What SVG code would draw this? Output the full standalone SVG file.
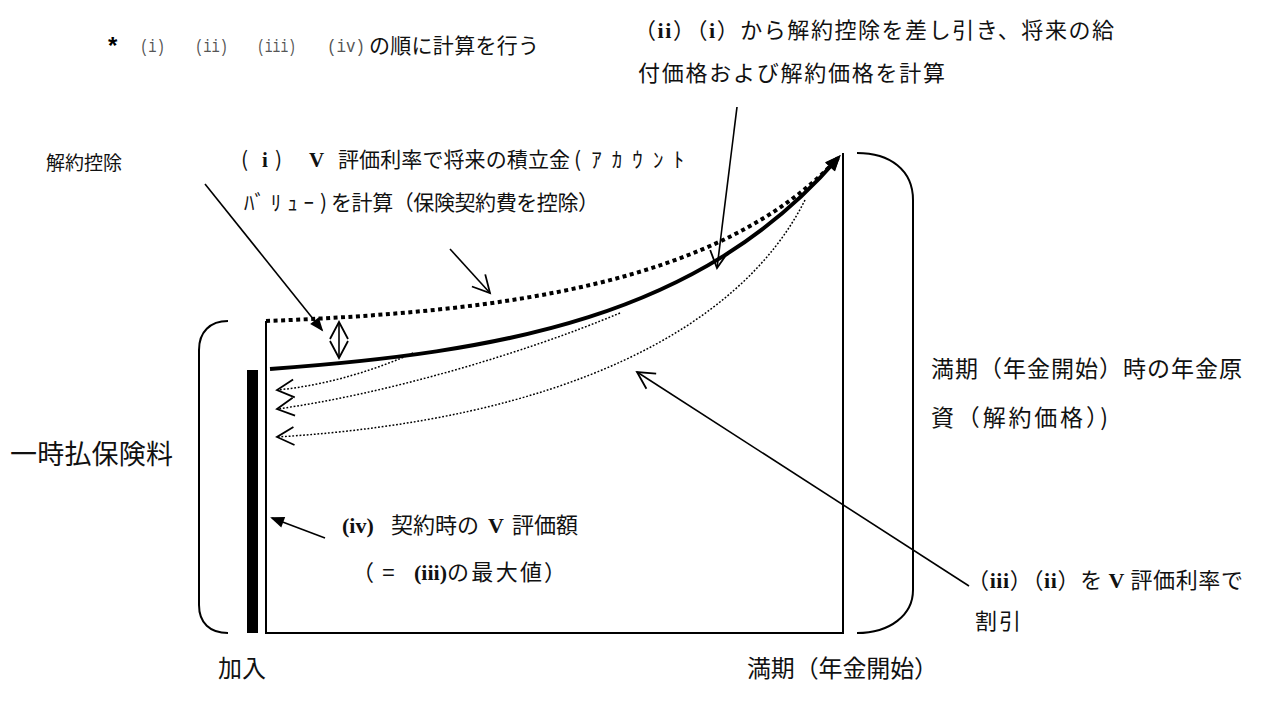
<svg xmlns="http://www.w3.org/2000/svg" width="1287" height="706" viewBox="0 0 1287 706">
<style>
.jp{font-family:"Noto Sans CJK JP","Noto Sans",sans-serif;font-size:22px;fill:#111}
.s19{font-size:19px}
.s21{font-size:21px}
.s23{font-size:23px}
.s24{font-size:24px}
.s27{font-size:27px}
.bs{font-family:"Liberation Serif",serif;font-weight:bold}
.mono{font-family:"Liberation Mono",monospace;font-size:19px;fill:#555}
.ln{fill:none;stroke:#000;stroke-width:2}
.thin{fill:none;stroke:#000;stroke-width:1.6}
.dotthin{fill:none;stroke:#000;stroke-width:1.5;stroke-dasharray:1.8 1.8}
</style>
<defs>
<marker id="fill" markerUnits="userSpaceOnUse" markerWidth="1" markerHeight="1" orient="auto" refX="0" refY="0" overflow="visible">
<path d="M4,0 L-12,-6.5 L-12,6.5 Z" fill="#000"/>
</marker>
<marker id="fillS" markerUnits="userSpaceOnUse" markerWidth="1" markerHeight="1" orient="auto" refX="0" refY="0" overflow="visible">
<path d="M2,0 L-12,-5.5 L-12,5.5 Z" fill="#000"/>
</marker>
<marker id="open" markerUnits="userSpaceOnUse" markerWidth="1" markerHeight="1" orient="auto" refX="0" refY="0" overflow="visible">
<path d="M-17,-9 L0,0 L-17,9" fill="none" stroke="#000" stroke-width="1.8"/>
</marker>
</defs>

<g id="frame">
<rect x="247" y="370" width="11" height="263" fill="#000"/>
<path class="ln" d="M266,321 L266,633 L843,633 L843,153"/>
<path class="ln" d="M228,321 C210,321 199,332 199,350 L199,605 C199,623 210,633 228,633"/>
<path class="ln" d="M857,153 C890,153 913,170 913,200 L913,590 C913,615 890,633 857,633"/>
</g>

<g id="connectors">
<path d="M266,321 C500,312 720,285 838,158" fill="none" stroke="#000" stroke-width="4" stroke-dasharray="4 3.5" marker-end="url(#fill)"/>
<path d="M270,369 C500,352 700,318 838,158" fill="none" stroke="#000" stroke-width="4" marker-end="url(#fill)"/>
<path class="dotthin" d="M413,353 C380,368 330,385 277,390" marker-end="url(#open)"/>
<path class="dotthin" d="M620,313 C520,355 380,395 277,409" marker-end="url(#open)"/>
<path class="dotthin" d="M805,200 C740,330 560,420 277,437" marker-end="url(#open)"/>
<path class="thin" d="M339,340 L339,322" marker-end="url(#open)"/>
<path class="thin" d="M339,340 L339,358" marker-end="url(#open)"/>
<path class="thin" d="M205,184 L322,330" marker-end="url(#fillS)"/>
<path class="thin" d="M450,249 L490,293" marker-end="url(#open)"/>
<path class="thin" d="M737,107 L717,268" marker-end="url(#open)"/>
<path class="thin" d="M969,586 L637,372" marker-end="url(#open)"/>
<path class="thin" d="M325,538 L272,518" marker-end="url(#fillS)"/>
</g>

<g id="note-order">
<text x="108" y="54" font-family="Liberation Sans,sans-serif" font-size="24" font-weight="bold">*</text>
<text class="mono" x="140" y="52" textLength="25" lengthAdjust="spacingAndGlyphs">(i)</text>
<text class="mono" x="195" y="52" textLength="33" lengthAdjust="spacingAndGlyphs">(ii)</text>
<text class="mono" x="257" y="52" textLength="39" lengthAdjust="spacingAndGlyphs">(iii)</text>
<text class="mono" x="327" y="52" textLength="38" lengthAdjust="spacingAndGlyphs">(iv)</text>
<text class="jp s21" x="369" y="53" textLength="170">の順に計算を行う</text>
</g>

<g id="label-ii">
<text class="jp" x="634" y="38" textLength="480">（<tspan class="bs">ii</tspan>）（<tspan class="bs">i</tspan>）から解約控除を差し引き、将来の給</text>
<text class="jp" x="638" y="81" textLength="307">付価格および解約価格を計算</text>
</g>

<g id="label-i">
<text class="jp s21" y="167"><tspan x="241">(</tspan><tspan class="bs" x="262">i</tspan><tspan x="275">)</tspan><tspan class="bs" x="309">V</tspan></text>
<text class="jp s21" x="338" y="167" textLength="232">評価利率で将来の積立金</text>
<text class="jp s21" x="574" y="167" textLength="110">(ｱｶｳﾝﾄ</text>
<text class="jp s21" x="244" y="210" textLength="83">ﾊﾞﾘｭｰ)</text>
<text class="jp s21" x="331" y="210" textLength="268">を計算（保険契約費を控除）</text>
</g>

<g id="label-kaiyaku">
<text class="jp s19" x="46" y="170">解約控除</text>
</g>

<g id="label-premium">
<text class="jp s27" x="10" y="464" textLength="163">一時払保険料</text>
</g>

<g id="label-maturity-value">
<text class="jp s23" x="931" y="377" textLength="311">満期（年金開始）時の年金原</text>
<text class="jp s23" x="931" y="426" textLength="177">資（解約価格）)</text>
</g>

<g id="label-iii">
<text class="jp" x="967" y="588" textLength="276">（<tspan class="bs">iii</tspan>）（<tspan class="bs">ii</tspan>）を <tspan class="bs">V</tspan> 評価利率で</text>
<text class="jp" x="975" y="629" textLength="46">割引</text>
</g>

<g id="label-iv">
<text class="jp" y="533"><tspan class="bs" x="342">(iv)</tspan><tspan x="391">契約時の</tspan><tspan class="bs" x="488">V</tspan><tspan x="512">評価額</tspan></text>
<text class="jp" y="580"><tspan x="352">（</tspan><tspan x="382" font-family="Liberation Sans,sans-serif">=</tspan></text>
<text class="jp bs" x="414" y="580" textLength="33">(iii)</text>
<text class="jp" x="447" y="580" textLength="95">の最大値</text>
<text class="jp" x="544" y="580">）</text>
</g>

<g id="axis-labels">
<text class="jp s24" x="218" y="677" textLength="48">加入</text>
<text class="jp s24" x="747" y="677" textLength="191">満期（年金開始）</text>
</g>
</svg>
